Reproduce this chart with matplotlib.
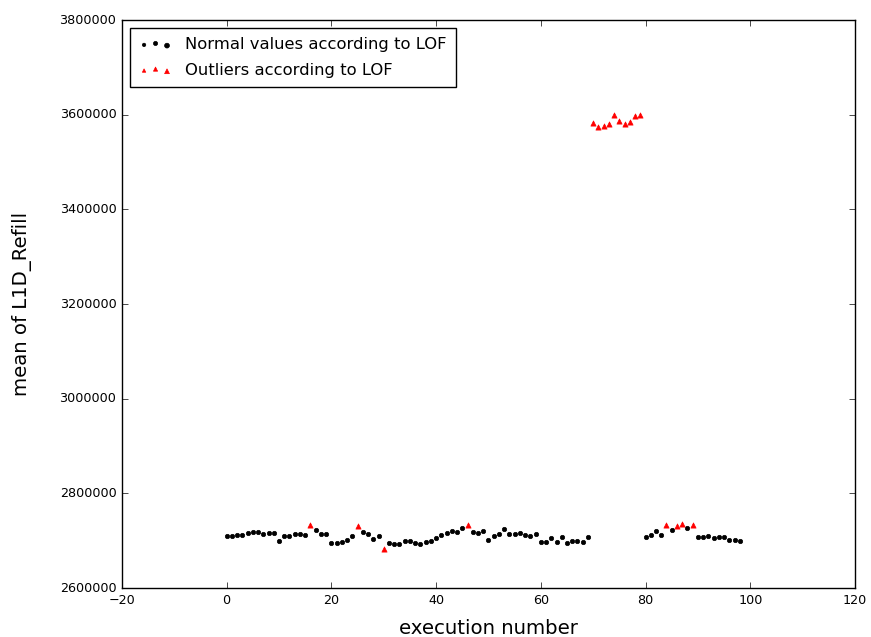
import matplotlib
matplotlib.use("Agg")
import matplotlib.pyplot as plt
import numpy as np
from matplotlib.collections import PathCollection
from matplotlib.legend_handler import HandlerPathCollection

plt.style.use("classic")

normal_x = list(range(0, 16)) + list(range(17, 25)) + list(range(26, 30)) + list(range(31, 46)) \
    + list(range(47, 70)) + [80, 81, 82, 83, 85, 88] + list(range(90, 99))
normal_y = [
    2710550, 2710550, 2711960, 2712670, 2715480, 2718300, 2718300, 2713370, 2716890, 2716890,
    2699290, 2709850, 2710550, 2714070, 2714070, 2711960,
    2722530, 2714070, 2714780, 2694360, 2694360, 2697880, 2701400, 2710550,
    2719000, 2714780, 2702810, 2709850,
    2694360, 2692250, 2692950, 2699990, 2699990, 2695770, 2692950, 2696470, 2699990, 2704920,
    2712670, 2715480, 2719710, 2719000, 2727450,
    2719000, 2716890, 2719710, 2701400, 2710550, 2713370, 2724640, 2713370, 2713370, 2715480,
    2712670, 2709850, 2713370, 2696470, 2696470, 2704920, 2696470, 2707740, 2694360, 2699990,
    2699990, 2696470, 2707740,
    2707030, 2711960, 2720410, 2712670, 2722530, 2726750,
    2707030, 2707030, 2710550, 2704920, 2707740, 2707740, 2702110, 2702110, 2699290,
]
outlier_x = [16, 25, 30, 46, 70, 71, 72, 73, 74, 75, 76, 77, 78, 79, 84, 86, 87, 89]
outlier_y = [
    2733800, 2731680, 2683090, 2733090,
    3581760, 3574580, 3576050, 3579640, 3599300, 3586620, 3579640, 3583870, 3597180, 3599300,
    2732385, 2730270, 2735200, 2733090,
]

fig = plt.figure(figsize=(8.71, 6.37), dpi=100, facecolor="white")
ax = fig.add_axes([0.140, 0.0769, 0.8416, 0.8917])
ax.scatter(normal_x, normal_y, s=10, c="black", marker="o", edgecolors="black",
           linewidths=0.5, label="Normal values according to LOF")
ax.scatter(outlier_x, outlier_y, s=14, c="red", marker="^", edgecolors="red",
           linewidths=0.5, label="Outliers according to LOF")
ax.set_xlim(-20, 120)
ax.set_ylim(2600000, 3800000)
ax.ticklabel_format(axis="y", style="plain", useOffset=False)
ax.tick_params(labelsize=9.2)
ax.set_xlabel("execution number", fontsize=14.2, labelpad=9)
ax.set_ylabel("mean of L1D_Refill", fontsize=14.2, labelpad=20)
ax.legend(loc="upper left", fontsize=11.8, scatterpoints=3, labelspacing=0.65,
          borderpad=0.55, handlelength=2.0,
          handler_map={PathCollection: HandlerPathCollection(sizes=[6, 9, 12])})
fig.savefig("out.png", dpi=100, facecolor="white")
